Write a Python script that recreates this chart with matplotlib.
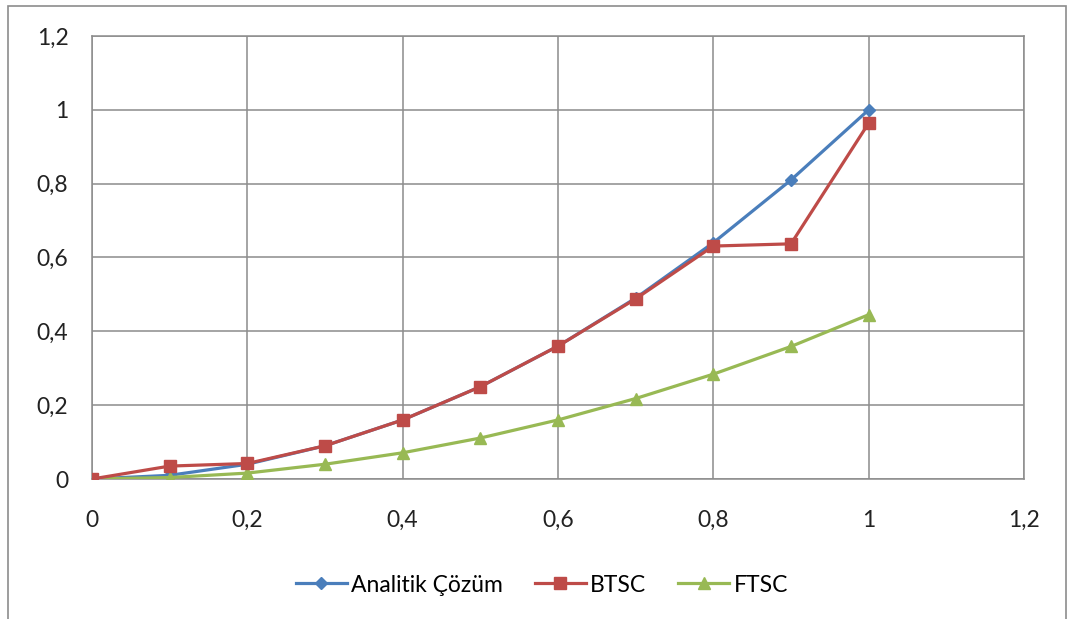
import matplotlib
matplotlib.use('Agg')
import matplotlib.pyplot as plt
from matplotlib.lines import Line2D
from matplotlib.ticker import MultipleLocator, FuncFormatter

# x grid points and the three solutions
x_vals = [0, 0.1, 0.2, 0.3, 0.4, 0.5, 0.6, 0.7, 0.8, 0.9, 1.0]
analitik = [0, 0.01, 0.04, 0.09, 0.16, 0.25, 0.36, 0.49, 0.64, 0.81, 1.0]
btsc = [0, 0.035, 0.042, 0.09, 0.16, 0.25, 0.36, 0.488, 0.631, 0.637, 0.964]
ftsc = [0, 0.004, 0.016, 0.04, 0.071, 0.111, 0.16, 0.218, 0.284, 0.359, 0.445]

series_names = ['Analitik Çözüm', 'BTSC', 'FTSC']

plt.rcParams['font.family'] = ['Lato', 'DejaVu Sans']

fig = plt.figure(figsize=(10.67, 6.19), dpi=100)
W, H = 1067, 619

# chart border
fig.add_artist(plt.Rectangle((8 / W, -0.05), (1066 - 8) / W, (H - 6) / H + 0.05,
                             transform=fig.transFigure, fill=False,
                             edgecolor='#8c8c8c', linewidth=1.2))

ax = fig.add_axes([92 / W, (H - 479) / H, (1024 - 92) / W, (479 - 36) / H])

lw = 2.3
ax.plot(x_vals, analitik, color='#4A7EBB', linewidth=lw, marker='D', markersize=6,
        label=series_names[0], zorder=3)
ax.plot(x_vals, btsc, color='#BE4B48', linewidth=lw, marker='s', markersize=8.5,
        label=series_names[1], zorder=4)
ax.plot(x_vals, ftsc, color='#98B954', linewidth=lw, marker='^', markersize=9,
        label=series_names[2], zorder=3)

ax.set_xlim(0, 1.2)
ax.set_ylim(0, 1.2)
ax.xaxis.set_major_locator(MultipleLocator(0.2))
ax.yaxis.set_major_locator(MultipleLocator(0.2))
fmt = FuncFormatter(lambda v, p: ('%g' % round(v, 1)).replace('.', ','))
ax.xaxis.set_major_formatter(fmt)
ax.yaxis.set_major_formatter(fmt)
ax.grid(True, color='#8c8c8c', linewidth=1.1)
ax.set_axisbelow(True)
for s in ax.spines.values():
    s.set_color('#8c8c8c')
    s.set_linewidth(1.1)
ax.tick_params(axis='x', length=0, pad=22, labelsize=16.5, colors='#222222')
ax.tick_params(axis='y', length=0, pad=17, labelsize=16.5, colors='#222222')

handles = [
    Line2D([], [], color='#4A7EBB', linewidth=lw, marker='D', markersize=6),
    Line2D([], [], color='#BE4B48', linewidth=lw, marker='s', markersize=8.5),
    Line2D([], [], color='#98B954', linewidth=lw, marker='^', markersize=9),
]
fig.legend(handles, series_names, loc='center', bbox_to_anchor=(542 / W, (H - 585) / H),
           ncol=3, frameon=False, fontsize=16.5, handlelength=2.2, handletextpad=0.2,
           columnspacing=1.4)

fig.savefig('out.png', dpi=100)
